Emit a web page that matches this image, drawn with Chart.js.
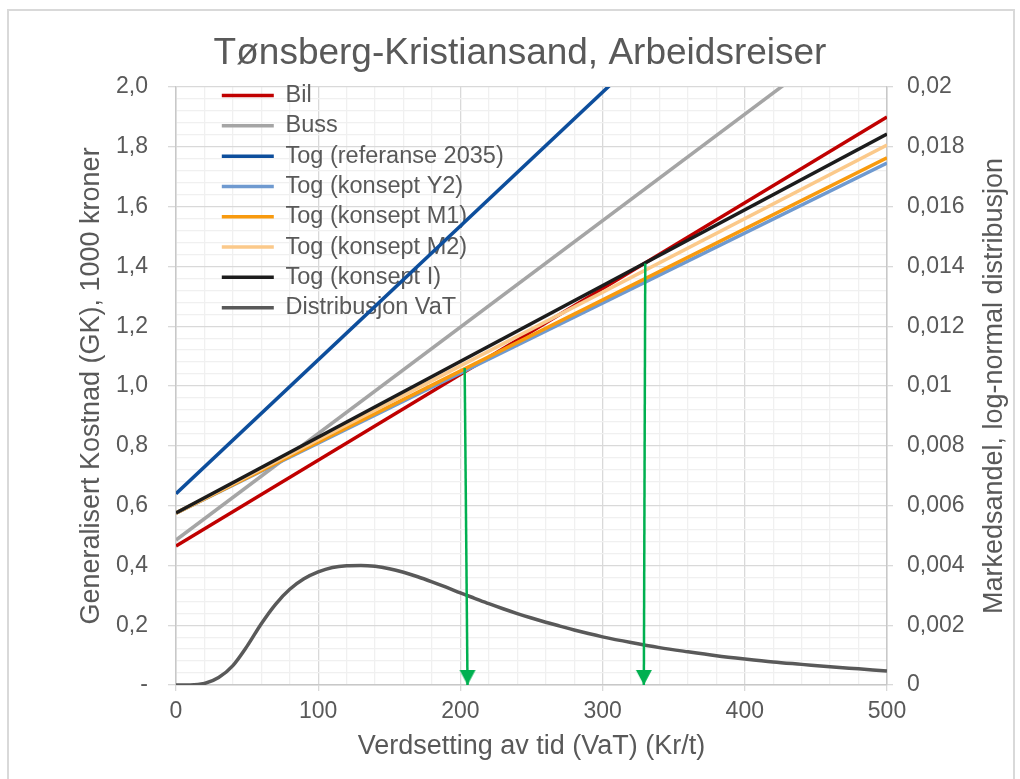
<!DOCTYPE html>
<html>
<head>
<meta charset="utf-8">
<title>Tønsberg-Kristiansand, Arbeidsreiser</title>
<script src="https://cdn.jsdelivr.net/npm/chart.js@4.4.1/dist/chart.umd.min.js"></script>
<style>
  html, body { margin: 0; padding: 0; background: #ffffff; }
  canvas { display: block; }
</style>
</head>
<body>
<canvas id="chart" width="1020" height="779"></canvas>
<script>
// Verdsetting av tid (Kr/t) at the two ends of each cost line
const vatEnds = [0, 500];

// Generalisert kostnad (1000 kroner) at VaT 0 and VaT 500
const bil    = [0.465, 1.900];
const buss   = [0.485, 2.265];
const togRef = [0.640, 2.878];
const togY2  = [0.575, 1.746];
const togM1  = [0.575, 1.763];
const togM2  = [0.575, 1.806];
const togI   = [0.575, 1.843];

const seriesNames = [
  'Bil', 'Buss', 'Tog (referanse 2035)', 'Tog (konsept Y2)',
  'Tog (konsept M1)', 'Tog (konsept M2)', 'Tog (konsept I)', 'Distribusjon VaT'
];
const seriesColors = [
  '#C00000', '#A5A5A5', '#0D4E9C', '#6F9AD0',
  '#F89A0E', '#FBC98A', '#1C1C1C', '#595959'
];

// Log-normal distribution of the value of time (market share)
const distVaT = [0, 10, 20, 30, 40, 50, 60, 70, 80, 90, 100, 110, 120, 130, 140, 150, 160, 170, 180, 190,
  200, 210, 220, 230, 240, 250, 260, 270, 280, 290, 300, 320, 340, 360, 380, 400, 420, 440, 460, 480, 500];
const distShare = [0, 0.00000, 0.00005, 0.00025, 0.00065, 0.00130, 0.00205, 0.00270, 0.00320, 0.00355,
  0.00378, 0.00393, 0.00399, 0.00400, 0.00397, 0.00389, 0.00377, 0.00362, 0.00345, 0.00327,
  0.00308, 0.00290, 0.00272, 0.00255, 0.00239, 0.00224, 0.00210, 0.00197, 0.00184, 0.00172,
  0.00161, 0.00142, 0.00125, 0.00111, 0.00098, 0.00087, 0.00077, 0.00069, 0.00061, 0.00054, 0.00047];

// Break-even points marked with arrows down to the VaT axis
const arrow1VaT = [203, 205];
const arrow1GK  = [1.06, 0];
const arrow2VaT = [330, 329];
const arrow2GK  = [1.41, 0];

// Axis ranges and tick steps
const xRange = [0, 500];
const gkRange = [0, 2];
const shareRange = [0, 0.02];
const xStep = 100, xMinorStep = 20;
const gkStep = 0.2, gkMinorStep = 0.04;
const shareStep = 0.002;

const FONT = '"Liberation Sans", Arial, Helvetica, sans-serif';
const TEXT = '#595959';
const GRID = '#d9d9d9';
const GRID_MINOR = '#f0f0f0';
const ARROW = '#00B050';

function pts(xs, ys) { return xs.map((x, i) => ({ x: x, y: ys[i] })); }

// Arrow head: a downward triangle whose tip sits at the centre of the image
const head = document.createElement('canvas');
head.width = 18; head.height = 32;
(function () {
  const h = head.getContext('2d');
  h.fillStyle = ARROW;
  h.beginPath();
  h.moveTo(1, 1); h.lineTo(17, 1); h.lineTo(9, 16);
  h.closePath(); h.fill();
})();

const costSeries = [bil, buss, togRef, togY2, togM1, togM2, togI];
const N = seriesNames.length;

const datasets = costSeries.map((vals, i) => ({
  label: seriesNames[i],
  data: pts(vatEnds, vals),
  borderColor: seriesColors[i],
  backgroundColor: seriesColors[i],
  borderWidth: 3.5,
  pointRadius: 0,
  pointHoverRadius: 0,
  tension: 0,
  xAxisID: 'x',
  yAxisID: 'y',
  order: N + 2 - i
}));

datasets.push({
  label: seriesNames[7],
  data: pts(distVaT, distShare),
  borderColor: seriesColors[7],
  backgroundColor: seriesColors[7],
  borderWidth: 3.5,
  pointRadius: 0,
  pointHoverRadius: 0,
  cubicInterpolationMode: 'monotone',
  xAxisID: 'x',
  yAxisID: 'y2',
  order: 2
});

[[arrow1VaT, arrow1GK], [arrow2VaT, arrow2GK]].forEach((a, k) => {
  datasets.push({
    data: pts(a[0], a[1]),
    borderColor: ARROW,
    backgroundColor: ARROW,
    borderWidth: 2.5,
    pointRadius: [0, 9],
    pointStyle: [false, head],
    pointHoverRadius: 0,
    tension: 0,
    xAxisID: 'x',
    yAxisID: 'y',
    order: 1 - k
  });
});

// Legend sits inside the plot area near its top-left corner;
// the title is centred a little right of the canvas middle
const placement = {
  id: 'placement',
  afterLayout(chart) {
    const a = chart.chartArea;
    const lg = chart.legend;
    if (lg) {
      lg.left = a.left + 39;
      lg.top = a.top - 10;
      lg.right = a.right;
      lg.bottom = a.bottom;
    }
    const tb = chart.titleBlock;
    if (tb) {
      tb.left += 10;
      tb.right += 10;
      tb.top += 3;
      tb.bottom += 3;
    }
  }
};

// Chart frame and the secondary axis title (reads bottom to top)
const frameAndTitles = {
  id: 'frameAndTitles',
  beforeDraw(chart) {
    const ctx = chart.ctx;
    ctx.save();
    ctx.fillStyle = '#ffffff';
    ctx.fillRect(0, 0, chart.width, chart.height);
    ctx.strokeStyle = '#d9d9d9';
    ctx.lineWidth = 2;
    ctx.strokeRect(8, 10, 1006, 800);
    ctx.restore();
  },
  afterDraw(chart) {
    const ctx = chart.ctx;
    const s = chart.scales.y2;
    const a = chart.chartArea;
    ctx.save();
    ctx.translate(s.right - 25, (a.top + a.bottom) / 2);
    ctx.rotate(-Math.PI / 2);
    ctx.fillStyle = TEXT;
    ctx.font = '27px ' + FONT;
    ctx.textAlign = 'center';
    ctx.textBaseline = 'middle';
    ctx.fillText('Markedsandel, log-normal distribusjon', 0, 0);
    ctx.restore();
  }
};

new Chart(document.getElementById('chart'), {
  type: 'line',
  data: { datasets: datasets },
  plugins: [placement, frameAndTitles],
  options: {
    responsive: false,
    animation: false,
    devicePixelRatio: 1,
    layout: { padding: 0 },
    font: { family: FONT },
    plugins: {
      tooltip: { enabled: false },
      title: {
        display: true,
        text: 'Tønsberg-Kristiansand, Arbeidsreiser',
        color: TEXT,
        font: { family: FONT, size: 37, weight: 'normal' },
        padding: { top: 29, bottom: 13.6 }
      },
      legend: {
        display: true,
        position: 'chartArea',
        align: 'start',
        labels: {
          color: TEXT,
          font: { family: FONT, size: 23.5 },
          boxWidth: 52,
          boxHeight: 0,
          padding: 6.8,
          filter: item => !!item.text,
          sort: (a, b) => a.datasetIndex - b.datasetIndex
        }
      }
    },
    scales: {
      x: {
        type: 'linear',
        position: 'bottom',
        min: xRange[0], max: xRange[1],
        afterFit(s) { s.height = 94; },
        ticks: {
          stepSize: xStep,
          color: TEXT,
          font: { family: FONT, size: 23 },
          padding: 7,
          maxRotation: 0
        },
        grid: { color: GRID, lineWidth: 1.3, tickLength: 6, drawTicks: true },
        border: { color: '#c8c8c8', width: 1.5 },
        title: {
          display: true,
          text: 'Verdsetting av tid (VaT) (Kr/t)',
          color: TEXT,
          font: { family: FONT, size: 27 },
          padding: { top: 0, bottom: 16 }
        }
      },
      xMinor: {
        type: 'linear',
        axis: 'x',
        position: 'bottom',
        min: xRange[0], max: xRange[1],
        afterFit(s) { s.height = 0; },
        ticks: { display: false, stepSize: xMinorStep },
        grid: {
          color: c => (c.index % 5 === 0 ? 'rgba(0,0,0,0)' : GRID_MINOR),
          lineWidth: 1.3,
          drawTicks: false
        },
        border: { display: false }
      },
      y: {
        type: 'linear',
        position: 'left',
        min: gkRange[0], max: gkRange[1],
        afterFit(s) { s.width = 176; },
        ticks: {
          stepSize: gkStep,
          color: TEXT,
          font: { family: FONT, size: 23 },
          padding: 20,
          callback: v => (Math.abs(v) < 1e-9 ? '-' : v.toFixed(1).replace('.', ','))
        },
        grid: { color: GRID, lineWidth: 1.3, tickLength: 8, drawTicks: true },
        border: { color: '#c8c8c8', width: 1.5 },
        title: {
          display: true,
          text: 'Generalisert Kostnad (GK), 1000 kroner',
          color: TEXT,
          font: { family: FONT, size: 27 },
          padding: { top: 75, bottom: 0 }
        }
      },
      yMinor: {
        type: 'linear',
        axis: 'y',
        position: 'left',
        min: gkRange[0], max: gkRange[1],
        afterFit(s) { s.width = 0; },
        ticks: { display: false, stepSize: gkMinorStep },
        grid: {
          color: c => (c.index % 5 === 0 ? 'rgba(0,0,0,0)' : GRID_MINOR),
          lineWidth: 1.3,
          drawTicks: false
        },
        border: { display: false }
      },
      y2: {
        type: 'linear',
        position: 'right',
        min: shareRange[0], max: shareRange[1],
        afterFit(s) { s.width = 133; },
        ticks: {
          stepSize: shareStep,
          color: TEXT,
          font: { family: FONT, size: 23 },
          padding: 14,
          callback: v => {
            const r = Math.round(v * 1000) / 1000;
            return r === 0 ? '0' : String(r).replace('.', ',');
          }
        },
        grid: { drawOnChartArea: false, color: GRID, lineWidth: 1.3, tickLength: 6, drawTicks: true },
        border: { color: '#c8c8c8', width: 1.5 }
      }
    }
  }
});
</script>
</body>
</html>
